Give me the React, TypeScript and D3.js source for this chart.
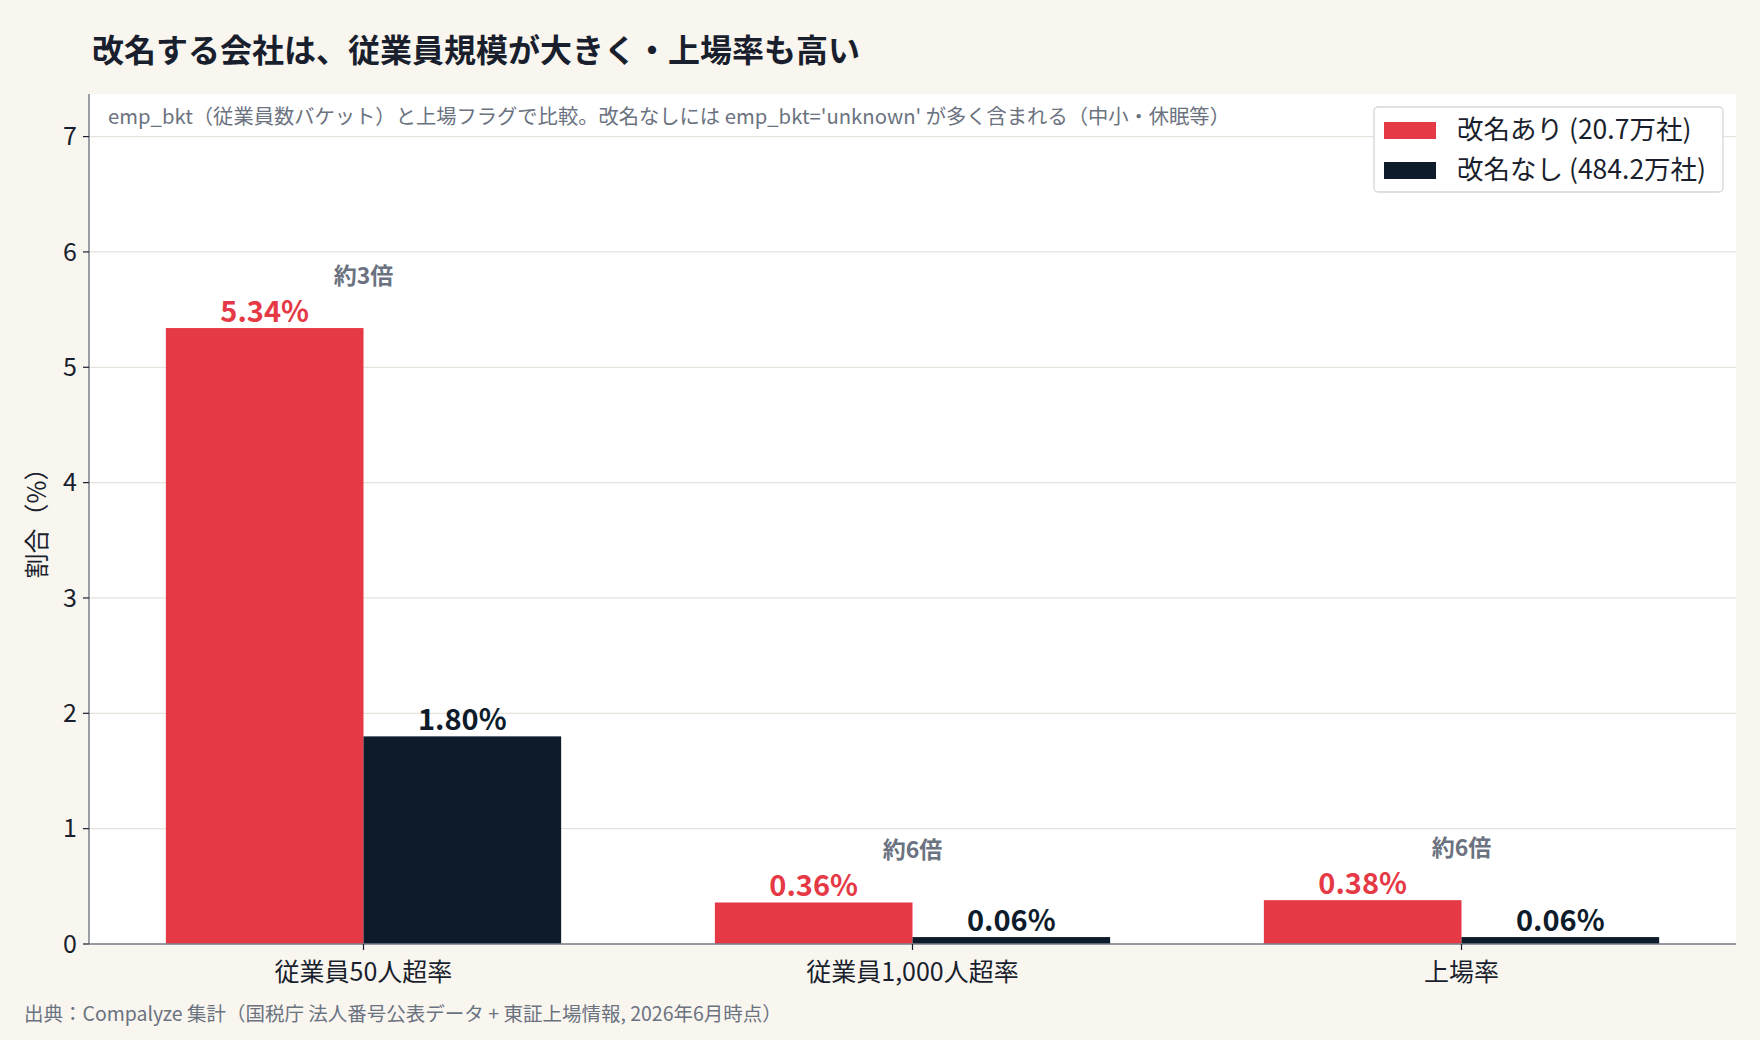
import React from "react";
import * as d3 from "d3";

const categories = ["従業員50人超率", "従業員1,000人超率", "上場率"];
const renamed = [5.34, 0.36, 0.38];
const notRenamed = [1.8, 0.06, 0.06];
const ratioLabels = ["約3倍", "約6倍", "約6倍"];
const yTicks = [0, 1, 2, 3, 4, 5, 6, 7];
const seriesNames = ["改名あり (20.7万社)", "改名なし (484.2万社)"];

const W = 1760;
const H = 1040;
const FONT = "'Noto Sans CJK JP', 'Noto Sans', sans-serif";
const RED = "#e63946";
const NAVY = "#0d1b2a";
const GRAY = "#6b7280";

export default function App() {
  const left = 89;
  const right = 1736;
  const top = 94;
  const bottom = 944;

  const x = d3.scaleBand<string>().domain(categories).range([left, right]).padding(0);
  const y = d3.scaleLinear().domain([0, 5.34 * 1.38]).range([bottom, top]);
  const barW = x.bandwidth() * 0.36;

  return (
    <svg width={W} height={H} style={{ display: "block", position: "absolute", left: 0, top: 0 }} fontFamily={FONT}>
      <rect width={W} height={H} fill="#f9f6f0" />
      <rect x={left} y={top} width={right - left} height={bottom - top} fill="#ffffff" />

      {/* grid */}
      {yTicks.map((t) => (
        <line key={t} x1={left} x2={right} y1={y(t)} y2={y(t)} stroke="#e6e3dc" strokeWidth={1.3} />
      ))}

      {/* bars */}
      {categories.map((c, i) => {
        const cx = x(c)! + x.bandwidth() / 2;
        const maxV = Math.max(renamed[i], notRenamed[i]);
        return (
          <g key={c}>
            <rect x={cx - barW} y={y(renamed[i])} width={barW} height={y(0) - y(renamed[i])} fill={RED} />
            <rect x={cx} y={y(notRenamed[i])} width={barW} height={y(0) - y(notRenamed[i])} fill={NAVY} />
            <text x={cx - barW / 2} y={y(renamed[i]) - 6} textAnchor="middle" fontSize={29} fontWeight={700} fill={RED}>
              {renamed[i].toFixed(2)}%
            </text>
            <text x={cx + barW / 2} y={y(notRenamed[i]) - 6} textAnchor="middle" fontSize={29} fontWeight={700} fill={NAVY}>
              {notRenamed[i].toFixed(2)}%
            </text>
            <text x={cx} y={y(maxV) - 44} textAnchor="middle" fontSize={23} fontWeight={700} fill={GRAY}>
              {ratioLabels[i]}
            </text>
          </g>
        );
      })}

      {/* axes */}
      <line x1={left} x2={left} y1={top} y2={bottom} stroke="#7a8088" strokeWidth={1.5} />
      <line x1={left} x2={right} y1={bottom} y2={bottom} stroke="#7a8088" strokeWidth={1.5} />
      {yTicks.map((t) => (
        <g key={t}>
          <line x1={left - 6} x2={left} y1={y(t)} y2={y(t)} stroke="#1a1f2e" strokeWidth={1.2} />
          <text x={left - 12} y={y(t)} dy="0.35em" textAnchor="end" fontSize={25} fill="#1a1f2e">
            {t}
          </text>
        </g>
      ))}
      {categories.map((c) => {
        const cx = x(c)! + x.bandwidth() / 2;
        return (
          <g key={c}>
            <line x1={cx} x2={cx} y1={bottom} y2={bottom + 6} stroke="#1a1f2e" strokeWidth={1.2} />
            <text x={cx} y={bottom + 28} dy="0.35em" textAnchor="middle" fontSize={25} fill="#1a1f2e">
              {c}
            </text>
          </g>
        );
      })}
      <text transform={`translate(37,${(top + bottom) / 2 - 2}) rotate(-90)`} textAnchor="middle" dy="0.35em" fontSize={25} fill="#1a1f2e">
        割合（%）
      </text>

      {/* title, subtitle, footer */}
      <text x={92} y={51} dy="0.35em" fontSize={32} fontWeight={700} fill="#1a1f2e">
        改名する会社は、従業員規模が大きく・上場率も高い
      </text>
      <text x={108} y={117} dy="0.35em" fontSize={20.3} fill={GRAY}>
        emp_bkt（従業員数バケット）と上場フラグで比較。改名なしには emp_bkt='unknown' が多く含まれる（中小・休眠等）
      </text>
      <text x={24} y={1014} dy="0.35em" fontSize={19.5} fill={GRAY}>
        出典：Compalyze 集計（国税庁 法人番号公表データ + 東証上場情報, 2026年6月時点）
      </text>

      {/* legend */}
      <g>
        <rect x={1374} y={107} width={349} height={85} rx={4} fill="#ffffff" fillOpacity={0.9} stroke="#d6d6d6" strokeWidth={1.3} />
        {seriesNames.map((s, i) => (
          <g key={s}>
            <rect x={1384} y={122 + i * 40} width={52} height={17} fill={i === 0 ? RED : NAVY} />
            <text x={1457} y={130 + i * 40} dy="0.35em" fontSize={26.5} fill="#1a1f2e">
              {s}
            </text>
          </g>
        ))}
      </g>
    </svg>
  );
}
